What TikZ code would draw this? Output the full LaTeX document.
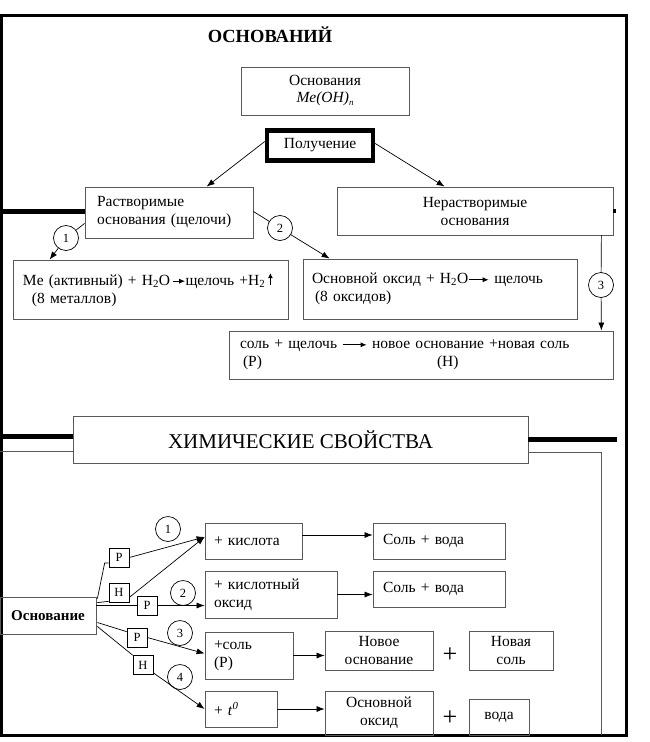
\documentclass[tikz,border=0pt]{standalone}
\usepackage{fontspec}
\setmainfont{Liberation Serif}
\usetikzlibrary{arrows.meta,calc}
\definecolor{boxc}{gray}{0.35}
\newcommand\tarr[1]{\tikz[baseline=-0.55ex,x=1pt,y=1pt]\draw[line width=0.8pt,-{Latex[length=6pt,width=5pt]}] (0,0) -- (#1,0);}
\newcommand\uarr{\tikz[baseline=0pt,x=1pt,y=1pt]\draw[line width=0.9pt,-{Latex[length=5pt,width=5pt]}] (0,0) -- (0,12);}
\begin{document}
\begin{tikzpicture}[x=1pt,y=-1pt,
  every node/.style={font=\fontsize{15.5}{18}\selectfont},
  box/.style={draw=boxc, line width=0.8pt, rectangle, inner sep=0pt, align=center},
  lbox/.style={box, align=left, inner xsep=9pt},
  num/.style={draw, circle, line width=0.7pt, minimum size=25pt, inner sep=0pt, font=\fontsize{12.5}{12}\selectfont},
  tag/.style={draw, rectangle, line width=0.7pt, minimum width=20pt, minimum height=19pt, inner sep=0pt, font=\fontsize{12.5}{12}\selectfont},
  arr/.style={line width=0.7pt, -{Latex[length=8pt,width=6pt]}},
  ln/.style={line width=0.7pt},
  frame/.style={line width=3pt},
  heavy/.style={line width=5pt},
]
\useasboundingbox (0,0) rectangle (650,742);

% frame
\draw[frame] (1.5,15) rectangle (626,735);

% top part
\node[font=\bfseries\fontsize{18.5}{20}\selectfont] (title) at (270,35) {ОСНОВАНИЙ};
\node[box, minimum width=168, minimum height=48] (osn) at (325,91) {Основания\\[-1pt]\textit{Me(OH)}\raisebox{-3pt}{\fontsize{9}{9}\selectfont\textit{n}}};
\node[box, draw=black, line width=4.5pt, minimum width=106, minimum height=30] (pol) at (320,145.5) {Получение};
\node[lbox, inner xsep=12pt, text width=144, minimum height=51] (rast) at (169,212.5) {Растворимые\\основания (щелочи)};
\node[box, minimum width=276, minimum height=48] (nera) at (475,211) {Нерастворимые\\основания};
\node[num] (c1) at (66,238) {1};
\node[num] (c2) at (280,228) {2};
\node[lbox, inner xsep=10pt, text width=255, minimum height=59] (me) at (150.5,289.5) {\mbox{Me (активный) + H\textsubscript{2}O\,\tarr{12}щелочь +H\textsubscript{2}\,\uarr}\\\hspace*{9pt}(8 металлов)};
\node[lbox, inner xsep=9pt, text width=256, minimum height=60] (oxid) at (440,289) {\mbox{Основной оксид + H\textsubscript{2}O\tarr{20}\ щелочь}\\\hspace*{3pt}(8 оксидов)};
\node[num] (c3) at (601,285) {3};
\node[lbox, inner xsep=11pt, text width=362, minimum height=48] (sol) at (421,355) {\mbox{соль + щелочь \tarr{24} новое основание +новая соль}\\\makebox[197pt][l]{\hspace*{3pt}(Р)}(Н)};

\draw[arr] ($(pol.west)+(0,-4)$) -- ($(rast.north west)+(122,0)$);
\draw[arr] ($(pol.east)+(0,-2)$) -- ($(nera.north west)+(108,0)$);
\draw[ln] ($(rast.south west)+(0,-15)$) -- (c1);
\draw[arr] (c1) -- ($(me.north west)+(37,0)$);
\draw[ln] ($(rast.east)+(0,-1)$) -- (c2);
\draw[arr] (c2) -- ($(oxid.north west)+(27,0)$);
\draw[ln] ($(nera.south east)+(-12,0)$) -- (c3);
\draw[arr] (c3) -- ($(sol.north east)+(-12,0)$);

\coordinate (fl1) at (0,211);
\draw[heavy] (fl1) -- (fl1 -| rast.west);
\draw[line width=4pt] (nera.east) -- ++(3,0);

% chemical properties
\node[box, minimum width=455, minimum height=47, font=\fontsize{21}{24}\selectfont] (chem) at (300.5,439.5) {ХИМИЧЕСКИЕ СВОЙСТВА};
\coordinate (fl2) at (0,436);
\coordinate (fl3) at (0,451);
\coordinate (fr2) at (617,439);
\coordinate (fr3) at (601,452);
\coordinate (fr4) at (601,735);
\draw[heavy] (fl2) -- (fl2 -| chem.west);
\draw[ln, boxc] (fl3) -- (fl3 -| chem.west);
\draw[heavy] (fr2 -| chem.east) -- (fr2);
\draw[ln, boxc] (fr3 -| chem.east) -- (fr3) -- (fr4);

\node[box, minimum width=96, minimum height=37, font=\bfseries\fontsize{15}{16}\selectfont] (base) at (48,615.5) {Основание};
\node[tag] (p1) at (119,557.5) {Р};
\node[tag] (h1) at (119,592.5) {Н};
\node[tag] (p2) at (147,605.5) {Р};
\node[tag] (p3) at (137,637.5) {Р};
\node[tag] (h4) at (143,665) {Н};
\node[num] (k1) at (168,529) {1};
\node[num] (k2) at (183,593) {2};
\node[num] (k3) at (180,633) {3};
\node[num] (k4) at (180,677) {4};

\node[lbox, inner xsep=9pt, text width=79, minimum height=36] (kisl) at (253.5,541) {+ кислота};
\node[lbox, inner xsep=9pt, text width=114, minimum height=47] (kox) at (271,594.5) {+ кислотный\\оксид};
\node[lbox, inner xsep=9pt, text width=70, minimum height=47] (ksol) at (249,655.5) {+соль\\(Р)};
\node[lbox, inner xsep=9pt, text width=54, minimum height=36] (kt) at (241,709) {+ \textit{t}\textsuperscript{\textit{0}}};
\node[lbox, inner xsep=10pt, text width=112, minimum height=36] (sv1) at (439,541) {Соль + вода};
\node[lbox, inner xsep=10pt, text width=112, minimum height=36] (sv2) at (439,589) {Соль + вода};
\node[box, minimum width=108, minimum height=39] (nb) at (379,650.5) {Новое\\основание};
\node[font=\fontsize{26}{26}\selectfont] (pl1) at (450,655) {+};
\node[box, minimum width=84, minimum height=39] (ns) at (511,650.5) {Новая\\соль};
\node[box, minimum width=108, minimum height=44] (ox2) at (379,713) {Основной\\оксид};
\node[font=\fontsize{26}{26}\selectfont] (pl2) at (450,718) {+};
\node[box, minimum width=60, minimum height=36] (voda) at (499,717) {вода};

\coordinate (kin) at ($(kisl.west)+(0,-4)$);
\draw[ln] ($(base.north east)+(1,2)$) -- ($(p1.west)+(-4,5.5)$) -- ($(p1.west)+(0,5.5)$);
\draw[arr] (p1.east) -- (kin);
\draw[ln] ($(base.north east)+(1,6)$) -- ($(h1.south west)+(0,-1)$);
\draw[arr] ($(h1.south east)+(0,-5)$) -- (kin);
\draw[ln] (base.east |- p2.west) -- (p2.west);
\draw[arr] (p2.east) -- (p2.east -| kox.west);
\draw[ln] ($(base.east)+(1,7)$) -- ($(p3.north west)+(0,4)$);
\draw[arr] (p3.east) -- ($(ksol.west)+(0,-2)$);
\draw[ln] ($(base.east)+(1,11)$) -- (h4.north west);
\draw[arr] ($(h4.south east)+(0,-2)$) -- (kt.west);
\draw[arr] ($(kisl.east)+(0,-6)$) -- ($(sv1.west)+(0,-6)$);
\draw[arr] (kox.east) -- (kox.east -| sv2.west);
\draw[arr] (ksol.east) -- (ksol.east -| nb.west);
\draw[arr] (kt.east) -- (kt.east -| ox2.west);
\end{tikzpicture}
\end{document}
